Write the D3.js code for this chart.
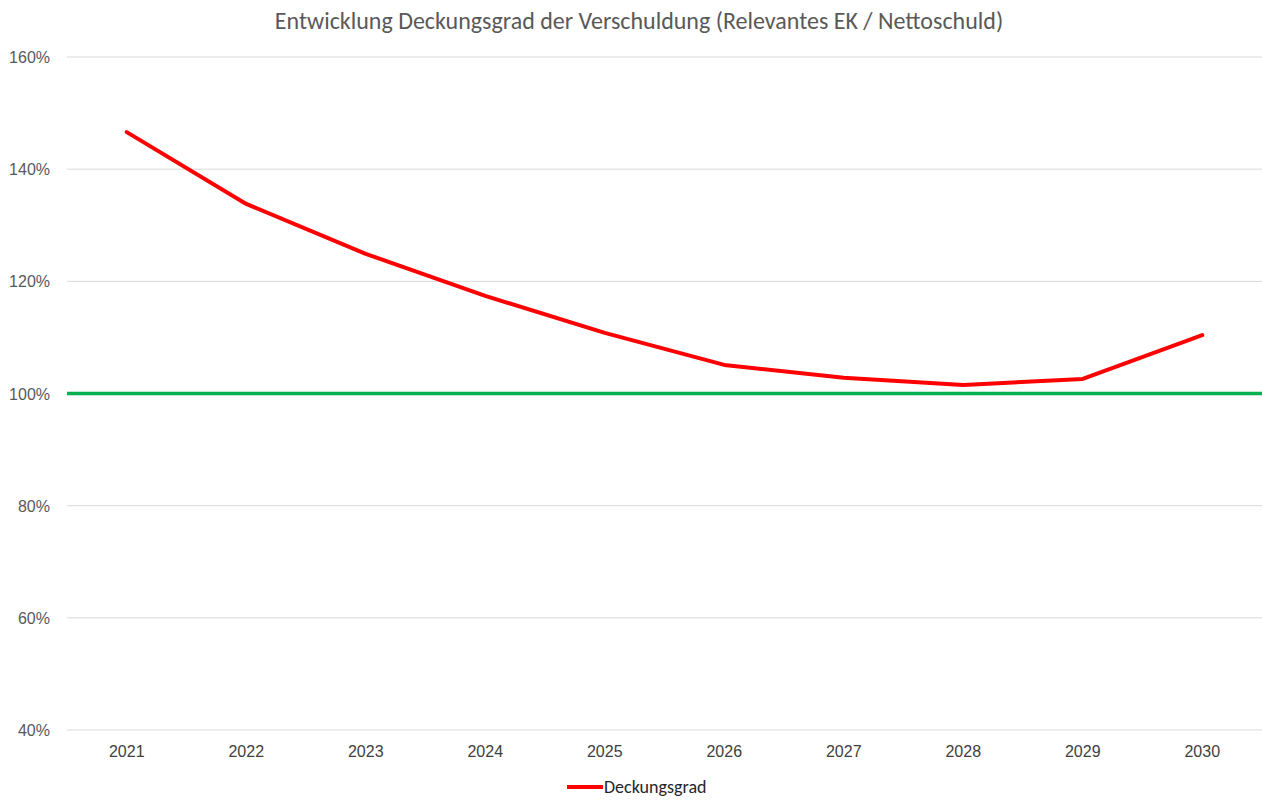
<!DOCTYPE html>
<html>
<head>
<meta charset="utf-8">
<script src="https://cdn.jsdelivr.net/npm/d3@7"></script>
<style>
  body { margin: 0; background: #fff; }
  svg { font-family: Carlito, "Open Sans", "Liberation Sans", sans-serif; }
</style>
</head>
<body>
<div id="chart"></div>
<script>
const years = ["2021", "2022", "2023", "2024", "2025", "2026", "2027", "2028", "2029", "2030"];
const deckungsgrad = [146.6, 133.8, 124.9, 117.4, 110.8, 105.1, 102.8, 101.5, 102.6, 110.4];
const zielwert = 100; // grüne Linie
const yTicks = [40, 60, 80, 100, 120, 140, 160];

const width = 1262;
const height = 800;
const margin = { top: 57, right: 0, bottom: 70, left: 67 };

const svg = d3.select("#chart")
  .append("svg")
  .attr("width", width)
  .attr("height", height);

const x = d3.scaleBand()
  .domain(years)
  .range([margin.left, width - margin.right]);

const y = d3.scaleLinear()
  .domain([40, 160])
  .range([height - margin.bottom, margin.top]);

// Titel
svg.append("text")
  .attr("x", 639)
  .attr("y", 29)
  .attr("text-anchor", "middle")
  .attr("fill", "#595959")
  .style("font-size", "24px")
  .text("Entwicklung Deckungsgrad der Verschuldung (Relevantes EK / Nettoschuld)");

// Gitterlinien
svg.append("g")
  .selectAll("line")
  .data(yTicks)
  .enter()
  .append("line")
  .attr("x1", margin.left)
  .attr("x2", width - margin.right)
  .attr("y1", (d) => y(d))
  .attr("y2", (d) => y(d))
  .attr("stroke", "#d9d9d9")
  .attr("stroke-width", 1);

// y-Achse
const yAxis = svg.append("g")
  .attr("transform", `translate(${margin.left - 14},0)`)
  .call(d3.axisLeft(y).tickValues(yTicks).tickSize(0).tickFormat((d) => d + "%"));
yAxis.select(".domain").remove();
yAxis.selectAll("text")
  .attr("fill", "#595959")
  .style("font-size", "16px")
  .attr("dy", "0.35em");

// x-Achse
const xAxis = svg.append("g")
  .attr("transform", `translate(0,${height - margin.bottom + 13})`)
  .call(d3.axisBottom(x).tickSize(0));
xAxis.select(".domain").remove();
xAxis.selectAll("text")
  .attr("fill", "#404040")
  .style("font-size", "16px")
  .attr("dy", "0.71em");

// 100%-Linie
svg.append("line")
  .attr("x1", margin.left)
  .attr("x2", width - margin.right)
  .attr("y1", y(zielwert))
  .attr("y2", y(zielwert))
  .attr("stroke", "#00b050")
  .attr("stroke-width", 3.5);

// Deckungsgrad
const line = d3.line()
  .x((d, i) => x(years[i]) + x.bandwidth() / 2)
  .y((d) => y(d));

svg.append("path")
  .datum(deckungsgrad)
  .attr("fill", "none")
  .attr("stroke", "#ff0000")
  .attr("stroke-width", 4)
  .attr("stroke-linecap", "round")
  .attr("stroke-linejoin", "round")
  .attr("d", line);

// Legende
const legend = svg.append("g").attr("transform", "translate(567,787)");
legend.append("line")
  .attr("x1", 0)
  .attr("x2", 36)
  .attr("stroke", "#ff0000")
  .attr("stroke-width", 4);
legend.append("text")
  .attr("x", 37)
  .attr("dy", "0.35em")
  .attr("fill", "#262626")
  .style("font-size", "18px")
  .text("Deckungsgrad");
</script>
</body>
</html>
